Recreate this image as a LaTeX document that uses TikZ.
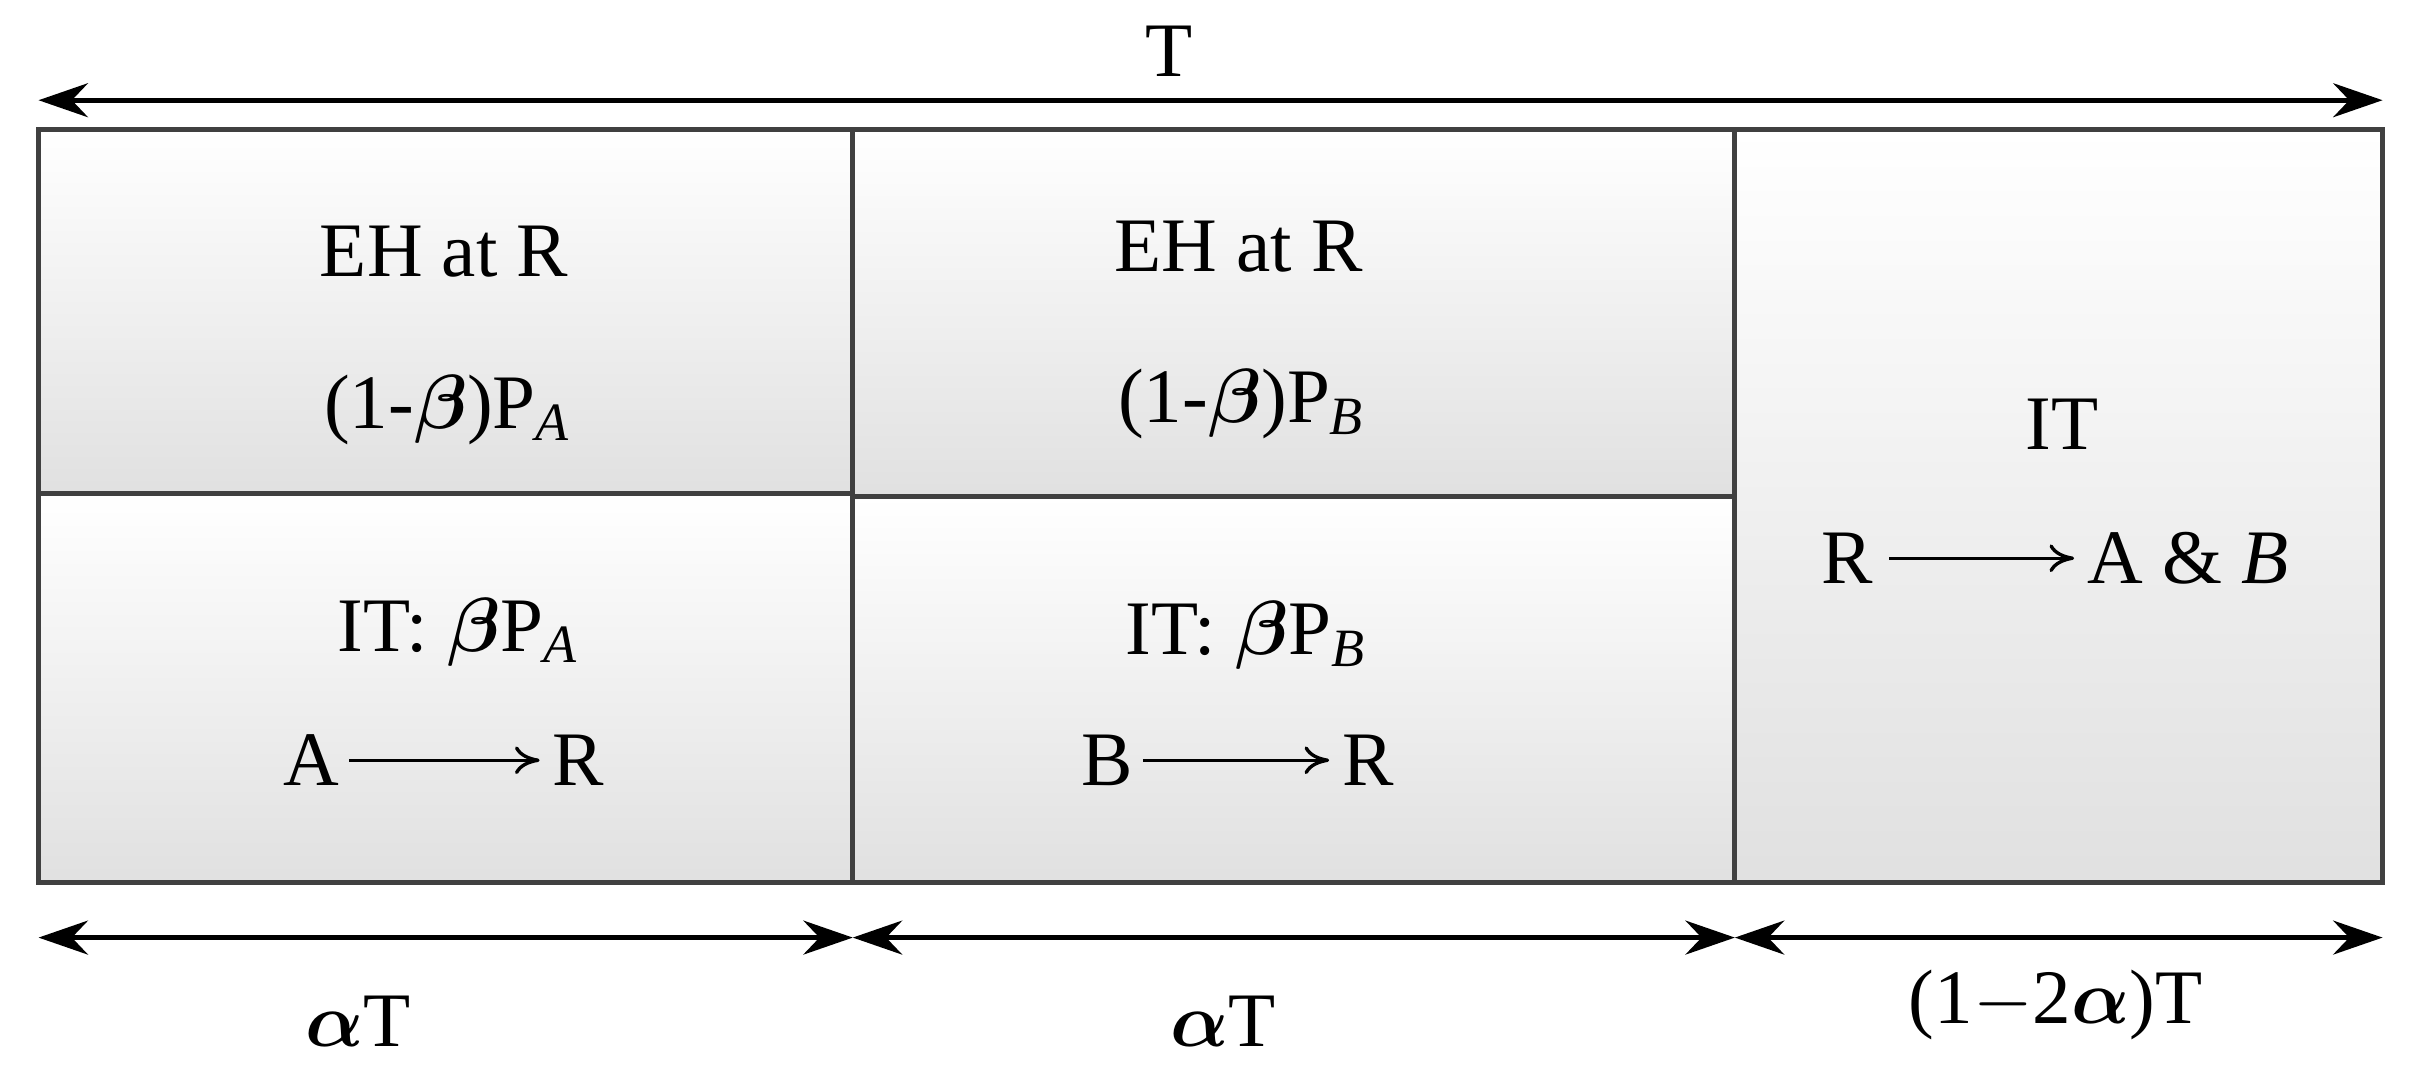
\documentclass[tikz,border=0pt]{standalone}
\usepackage{amsmath}
\usepackage{amssymb}
\usepackage{bm}
\usepackage{fontspec}
\setmainfont{Liberation Serif}
\usetikzlibrary{arrows.meta}
\begin{document}
\begin{tikzpicture}[x=0.5pt,y=-0.5pt,
  cell/.style={draw=black!75,line width=1.6pt,top color=white,bottom color=black!12},
  lbl/.style={font=\fontsize{25}{29}\selectfont,inner sep=0pt},
  dim/.style={line width=1.6pt,{Stealth[length=16pt,width=11pt]}-{Stealth[length=16pt,width=11pt]}},
  harr/.style={-{To[length=8pt,width=9pt]},line width=1.1pt}]
\useasboundingbox (0,0) rectangle (1568,694);
\path[cell] (25,84) rectangle (553,320);
\path[cell] (25,320) rectangle (553,572);
\path[cell] (553,84) rectangle (1125,322);
\path[cell] (553,322) rectangle (1125,572);
\path[cell] (1125,84) rectangle (1545,572);
\coordinate (tl) at (25,65); \coordinate (tr) at (1545,65);
\coordinate (b0) at (25,608); \coordinate (b1) at (553,608);
\coordinate (b2) at (1125,608); \coordinate (b3) at (1545,608);
\draw[dim] (tl) -- (tr);
\draw[dim] (b0) -- (b1);
\draw[dim] (b1) -- (b2);
\draw[dim] (b2) -- (b3);
\node[lbl] (tT) at (758,33) {T};
\node[lbl] (a1) at (232,662) {$\bm{\alpha}$T};
\node[lbl] (a2) at (793,662) {$\bm{\alpha}$T};
\node[lbl] (a3) at (1333,652) {(1$-$2$\bm{\alpha}$)T};
\node[lbl] (e1) at (288,163) {EH at R};
\node[lbl] (p1) at (290,266) {(1-$\bm{\beta}$)P$_{\mathit{A}}$};
\node[lbl] (e2) at (803,160) {EH at R};
\node[lbl] (p2) at (805,262) {(1-$\bm{\beta}$)P$_{\mathit{B}}$};
\node[lbl] (i1) at (297,410) {IT: $\bm{\beta}$P$_{\mathit{A}}$};
\node[lbl] (i2) at (808,412) {IT: $\bm{\beta}$P$_{\mathit{B}}$};
\node[lbl] (A1) at (202,493) {A};
\node[lbl] (R1) at (375,493) {R};
\draw[harr] (A1.east)++(6,0) -- ([xshift=-4]R1.west);
\node[lbl] (B2) at (718,493) {B};
\node[lbl] (R2) at (887,493) {R};
\draw[harr] (B2.east)++(6,0) -- ([xshift=-4]R2.west);
\node[lbl] (it3) at (1337,275) {IT};
\node[lbl] (R3) at (1198,362) {R};
\node[lbl,anchor=west] (AB3) at (1353,362) {A \& \textit{B}};
\draw[harr] (R3.east)++(10,0) -- ([xshift=-4]AB3.west);
\end{tikzpicture}
\end{document}
